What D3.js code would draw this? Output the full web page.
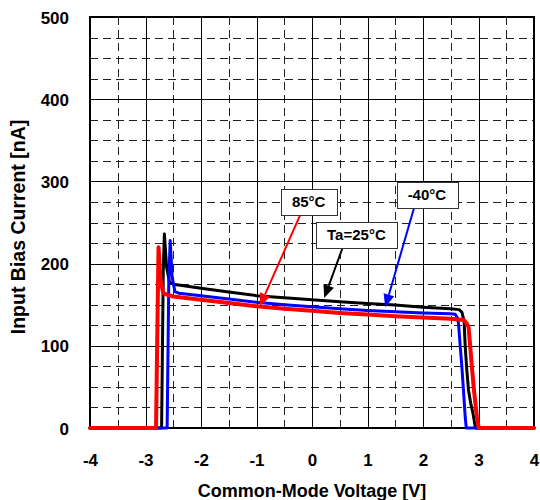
<!DOCTYPE html>
<html>
<head>
<meta charset="utf-8">
<script src="https://cdn.jsdelivr.net/npm/d3@7"></script>
<style>
    body { margin: 0; background: #fff; }
    text { font-family: "Liberation Sans", Arial, sans-serif; font-weight: bold; fill: #000; }
</style>
</head>
<body>
<svg id="chart" width="540" height="500"></svg>
<script>
// axis ticks
var xTicks = [-4, -3, -2, -1, 0, 1, 2, 3, 4];
var yTicks = [0, 100, 200, 300, 400, 500];
var xMinor = [-3.5, -2.5, -1.5, -0.5, 0.5, 1.5, 2.5, 3.5];
var yMinor = [25, 50, 75, 125, 150, 175, 225, 250, 275, 325, 350, 375, 425, 450, 475];

// [voltage V, current nA]
var ta25 = [
    [-4, 0], [-2.71, 0], [-2.68, 190], [-2.66, 236], [-2.62, 196], [-2.57, 178],
    [-2.5, 175], [-2, 170], [-1.5, 165.5], [-1, 161], [-0.5, 158.5], [0, 156],
    [0.5, 153.5], [1, 151.5], [1.5, 149.5], [2, 147], [2.5, 145], [2.65, 144],
    [2.7, 141], [2.74, 130], [2.76, 100], [2.79, 70], [2.82, 46], [2.86, 30],
    [2.9, 18], [2.94, 2], [2.95, 0], [4, 0]
];
var tm40 = [
    [-4, 0], [-2.61, 0], [-2.58, 180], [-2.555, 228], [-2.52, 184], [-2.47, 166],
    [-2.4, 164], [-2, 161], [-1.5, 157], [-1, 153], [-0.5, 150], [0, 147.5],
    [0.5, 145], [1, 143], [1.5, 141.5], [2, 140], [2.5, 139], [2.58, 138.5],
    [2.62, 134], [2.64, 127], [2.67, 100], [2.7, 75], [2.73, 45], [2.76, 14],
    [2.78, 0], [4, 0]
];
var t85 = [
    [-4, 0], [-2.81, 0], [-2.78, 150], [-2.765, 220], [-2.73, 180], [-2.68, 164],
    [-2.6, 162], [-2.5, 160], [-2, 156], [-1.5, 152], [-1, 148], [-0.5, 145],
    [0, 142.5], [0.5, 140], [1, 138], [1.5, 136], [2, 134.5], [2.5, 133],
    [2.73, 131.5], [2.78, 128], [2.82, 123], [2.85, 100], [2.88, 75], [2.92, 45],
    [2.97, 14], [3, 2], [3.01, 0], [4, 0]
];

var seriesList = [
    {name: 'Ta=25°C', values: ta25, color: '#000', width: 3},
    {name: '-40°C', values: tm40, color: '#0000ff', width: 3},
    {name: '85°C', values: t85, color: '#ff0000', width: 4}
];

// callouts: label centre, arrow start and tip, all in data units
var callouts = [
    {text: '85°C', at: [-0.06, 275], from: [-0.22, 258], to: [-0.94, 148], color: '#ff0000'},
    {text: 'Ta=25°C', at: [0.8, 235], from: [0.55, 219], to: [0.22, 158], color: '#000'},
    {text: '-40°C', at: [2.07, 284], from: [1.84, 268], to: [1.32, 147], color: '#0000ff'}
];

var svg = d3.select('svg#chart');
var plotLeft = 90, plotRight = 534, plotTop = 17, plotBottom = 428;

var x = d3.scaleLinear().domain([-4, 4]).range([plotLeft, plotRight]);
var y = d3.scaleLinear().domain([0, 500]).range([plotBottom, plotTop]);

var grid = svg.append('g');

grid.selectAll('line.vminor')
    .data(xMinor)
    .enter().append('line')
    .attr('x1', d => Math.round(x(d)) + 0.5).attr('x2', d => Math.round(x(d)) + 0.5)
    .attr('y1', plotBottom).attr('y2', plotTop)
    .attr('stroke', '#222').attr('stroke-dasharray', '8,5');

grid.selectAll('line.hminor')
    .data(yMinor)
    .enter().append('line')
    .attr('y1', d => Math.round(y(d)) + 0.5).attr('y2', d => Math.round(y(d)) + 0.5)
    .attr('x1', plotLeft).attr('x2', plotRight)
    .attr('stroke', '#222').attr('stroke-dasharray', '8,5');

grid.selectAll('line.vmajor')
    .data(xTicks)
    .enter().append('line')
    .attr('x1', d => Math.round(x(d)) + 0.5).attr('x2', d => Math.round(x(d)) + 0.5)
    .attr('y1', plotBottom).attr('y2', plotTop)
    .attr('stroke', '#000');

grid.selectAll('line.hmajor')
    .data(yTicks)
    .enter().append('line')
    .attr('y1', d => Math.round(y(d)) + 0.5).attr('y2', d => Math.round(y(d)) + 0.5)
    .attr('x1', plotLeft).attr('x2', plotRight)
    .attr('stroke', '#000');

// frame
svg.append('rect')
    .attr('x', plotLeft).attr('y', plotTop)
    .attr('width', plotRight - plotLeft).attr('height', plotBottom - plotTop)
    .attr('fill', 'none').attr('stroke', '#000').attr('stroke-width', 2);

// axes, labels only
var xAxis = d3.axisBottom(x).tickValues(xTicks).tickSize(0).tickPadding(0)
    .tickFormat(d => String(d));
var yAxis = d3.axisLeft(y).tickValues(yTicks).tickSize(0).tickPadding(0)
    .tickFormat(d => String(d));

var gX = svg.append('g')
    .attr('transform', 'translate(0,' + (plotBottom + 38) + ')')
    .call(xAxis);
gX.select('.domain').remove();
gX.selectAll('text')
    .attr('dy', 0)
    .style('font-size', '17px')
    .attr('font-family', null);

var gY = svg.append('g')
    .attr('transform', 'translate(' + (plotLeft - 21) + ',0)')
    .call(yAxis);
gY.select('.domain').remove();
gY.selectAll('text')
    .attr('dy', '0.36em')
    .style('font-size', '17px')
    .attr('font-family', null);

svg.append('text')
    .attr('x', (plotLeft + plotRight) / 2).attr('y', 497)
    .attr('text-anchor', 'middle')
    .style('font-size', '18px')
    .text('Common-Mode Voltage [V]');

svg.append('text')
    .attr('transform', 'translate(25,' + 227 + ') rotate(-90)')
    .attr('text-anchor', 'middle')
    .style('font-size', '19.5px')
    .text('Input Bias Current [nA]');

// curves
var valueline = d3.line()
    .x(d => x(d[0]))
    .y(d => y(d[1]));

svg.append('g').selectAll('path')
    .data(seriesList)
    .enter().append('path')
    .attr('d', d => valueline(d.values))
    .attr('fill', 'none')
    .attr('stroke', d => d.color)
    .attr('stroke-width', d => d.width)
    .attr('stroke-linejoin', 'round')
    .attr('stroke-linecap', 'round');

// callouts
var notes = svg.append('g');

callouts.forEach(function(c) {
    var x0 = x(c.from[0]), y0 = y(c.from[1]);
    var x1 = x(c.to[0]), y1 = y(c.to[1]);
    var ang = Math.atan2(y1 - y0, x1 - x0);
    var len = 13, half = 5.5;
    var bx = x1 - len * Math.cos(ang), by = y1 - len * Math.sin(ang);

    notes.append('line')
        .attr('x1', x0).attr('y1', y0)
        .attr('x2', bx).attr('y2', by)
        .attr('stroke', c.color).attr('stroke-width', 2);

    notes.append('path')
        .attr('d', 'M' + x1 + ',' + y1 +
            'L' + (bx + half * Math.sin(ang)) + ',' + (by - half * Math.cos(ang)) +
            'L' + (bx - half * Math.sin(ang)) + ',' + (by + half * Math.cos(ang)) + 'Z')
        .attr('fill', c.color);

    var g = notes.append('g');
    var rect = g.append('rect')
        .attr('fill', '#fff').attr('stroke', '#333').attr('stroke-width', 1);
    var t = g.append('text')
        .attr('x', x(c.at[0])).attr('y', y(c.at[1]))
        .attr('text-anchor', 'middle').attr('dy', '0.36em')
        .style('font-size', '15px')
        .text(c.text);
    var bb = t.node().getBBox();
    rect.attr('x', Math.round(bb.x - 11) + 0.5).attr('y', Math.round(y(c.at[1]) - 13) + 0.5)
        .attr('width', Math.round(bb.width + 22)).attr('height', 26);
});
</script>
</body>
</html>
